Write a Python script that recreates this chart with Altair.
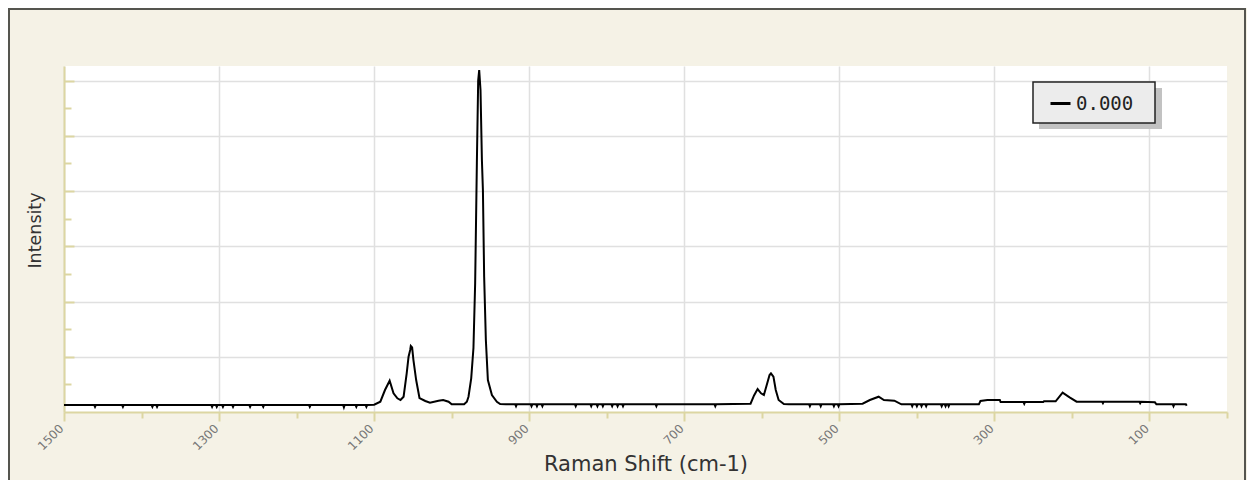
import altair as alt
import pandas as pd

# ---- data (Raman shift in cm-1, intensity in arbitrary units) ----
shift = [
    1500, 1461, 1460, 1459, 1425, 1424, 1423, 1387, 1386, 1385, 1381, 1380, 1379,
    1310, 1309, 1308, 1304, 1303, 1302, 1296, 1295, 1294, 1283, 1282, 1281,
    1261, 1260, 1259, 1244, 1243, 1242, 1184, 1183, 1182, 1140, 1139, 1138,
    1124, 1123, 1122, 1111, 1110, 1109,
    1100, 1092, 1086, 1080, 1075, 1070, 1066, 1062, 1058, 1055.6, 1053.5, 1052.7,
    1051, 1049.3, 1045.8, 1041.5, 1034, 1028, 1017, 1011, 1004, 1000, 984, 980.4,
    978.3, 974.8, 971.9, 969.7, 967.5, 965.8, 964.5, 962.8, 961.0, 959.7, 958.1,
    955.9, 953.3, 948.1, 941.7, 937.4, 930,
    918, 917, 916, 898, 897, 896, 891, 890, 889, 884, 883, 882,
    841, 840, 839, 821, 820, 819, 813, 812, 811, 806, 805, 804,
    794, 793, 792, 787, 786, 785, 780, 779, 778, 737, 736, 735, 661, 660, 659,
    614.5, 610, 605.4, 601, 597.3, 593, 590, 588.2, 585, 582, 578.3, 571.5, 565,
    539, 538, 537, 525, 524, 523, 508, 507, 506, 502, 501, 500,
    470, 460.6, 449.3, 442.5, 429, 420,
    407, 406, 405, 401, 400, 399, 395, 394, 393, 389, 388, 387,
    369, 368, 367, 364, 363, 362, 360, 359, 358,
    320, 318, 309, 293, 292, 262.5, 261.5, 260.5, 237, 236, 221,
    212, 203, 194, 161, 160, 159, 113, 112, 111, 93, 91, 70, 69, 68, 53, 52,
]
intensity = [
    127, 127, 95, 127, 127, 95, 127, 127, 95, 127, 127, 95, 127,
    127, 95, 127, 127, 95, 127, 127, 95, 127, 127, 95, 127,
    127, 95, 127, 127, 95, 127, 127, 95, 127, 127, 85, 127,
    127, 95, 127, 127, 95, 127,
    132, 186, 398, 566, 338, 248, 217, 277, 700, 1001, 1122, 1195,
    1170, 941, 579, 253, 199, 168, 205, 217, 186, 139, 139, 186,
    277, 610, 1158, 2335, 4507, 6000, 6190, 5830, 4560, 4018, 2449,
    1303, 579, 308, 186, 145, 139,
    139, 105, 139, 139, 105, 139, 139, 105, 139, 139, 105, 139,
    139, 105, 139, 139, 105, 139, 139, 105, 139, 139, 105, 139,
    139, 105, 139, 139, 105, 139, 139, 105, 139, 139, 105, 139, 139, 105, 139,
    150, 300, 416, 338, 308, 519, 670, 700, 639, 398, 217, 145, 139,
    139, 105, 139, 139, 105, 139, 139, 105, 139, 139, 105, 139,
    150, 217, 277, 217, 205, 139,
    139, 105, 139, 139, 105, 139, 139, 105, 139, 139, 105, 139,
    139, 105, 139, 139, 105, 139, 139, 105, 139,
    139, 199, 217, 217, 181, 181, 150, 181, 181, 194, 194,
    350, 266, 187, 187, 160, 187, 187, 160, 187, 176, 139, 139, 105, 139, 139, 115,
]
series_name = "0.000"

x_major = [1500, 1300, 1100, 900, 700, 500, 300, 100]
x_minor = [1400, 1200, 1000, 800, 600, 400, 200, 0]
y_major = [1000, 2000, 3000, 4000, 5000, 6000]
y_minor = [500, 1500, 2500, 3500, 4500, 5500]
x_domain = [0, 1500]
y_domain = [0, 6263]

df = pd.DataFrame({"shift": shift, "intensity": intensity,
                   "series": [series_name] * len(shift)})

W, H = 1163, 346
AXIS_C = "#dcd6a2"
GRID_C = "#e0e0e0"

xscale = alt.Scale(domain=x_domain, reverse=True, nice=False, zero=False)
yscale = alt.Scale(domain=y_domain, nice=False, zero=False)

base = alt.Chart(df)
one = pd.DataFrame({"k": [0]})

# frame around the whole figure
frame = alt.Chart(one).mark_rect(
    fillOpacity=0, stroke="#55554f", strokeWidth=2
).encode(x=alt.value(-55), x2=alt.value(1181), y=alt.value(-57), y2=alt.value(440))

# legend drop shadow and legend box
shadow = alt.Chart(one).mark_rect(fill="#c2c2c2", strokeWidth=0).encode(
    x=alt.value(975), x2=alt.value(1098), y=alt.value(22), y2=alt.value(63))
legend_box = alt.Chart(one).mark_rect(
    fill="#ececec", stroke="#222222", strokeWidth=1.5
).encode(x=alt.value(969), x2=alt.value(1091), y=alt.value(16), y2=alt.value(57))

# minor x ticks + inward major y ticks
ticks1 = base.mark_line(opacity=0).encode(
    x=alt.X("shift:Q", scale=xscale, axis=alt.Axis(
        values=x_minor, orient="bottom", grid=False, domain=False, labels=False,
        title=None, tickSize=6, tickColor=AXIS_C, tickWidth=2)),
    y=alt.Y("intensity:Q", scale=yscale, axis=alt.Axis(
        values=y_major, orient="left", offset=-10, tickSize=10, tickColor=AXIS_C,
        tickWidth=2, domain=False, labels=False, grid=False, title=None)),
)

# inward minor y ticks
ticks2 = base.mark_line(opacity=0).encode(
    x=alt.X("shift:Q", scale=xscale, axis=None),
    y=alt.Y("intensity:Q", scale=yscale, axis=alt.Axis(
        values=y_minor, orient="left", offset=-7, tickSize=7, tickColor=AXIS_C,
        tickWidth=2, domain=False, labels=False, grid=False, title=None)),
)

line = base.mark_line(strokeWidth=2, interpolate="linear").encode(
    x=alt.X("shift:Q", scale=xscale, axis=alt.Axis(
        values=x_major, orient="bottom", grid=True, gridColor=GRID_C, gridWidth=1.5,
        tickSize=9, tickColor=AXIS_C, tickWidth=2, domainColor=AXIS_C, domainWidth=2,
        format="d", labelAngle=315, labelAlign="right", labelBaseline="middle",
        labelFont="DejaVu Sans", labelFontSize=12, labelColor="#777777",
        labelPadding=5, labelOffset=-3,
        title="Raman Shift (cm-1)", titleFont="DejaVu Sans", titleFontSize=21,
        titleFontWeight="normal", titleColor="#333333", titleY=41)),
    y=alt.Y("intensity:Q", scale=yscale, axis=alt.Axis(
        values=y_major, orient="left", grid=True, gridColor=GRID_C, gridWidth=1.5,
        ticks=False, labels=False, domainColor=AXIS_C, domainWidth=2,
        title="Intensity", titleFont="DejaVu Sans", titleFontSize=17.5,
        titleFontWeight="normal", titleColor="#333333", titleX=-20, titleY=164)),
    color=alt.Color("series:N", scale=alt.Scale(range=["#000000"]), legend=alt.Legend(
        orient="none", legendX=969, legendY=16, title=None, padding=10,
        symbolType="stroke", symbolStrokeWidth=3, symbolSize=400,
        symbolOffset=6, labelOffset=4,
        labelFont="DejaVu Sans Mono", labelFontSize=19, labelColor="#222222")),
    order=alt.Order("shift:Q"),
)

chart = alt.layer(shadow, legend_box, frame, ticks1, ticks2, line).resolve_axis(
    x="independent", y="independent"
).properties(
    width=W, height=H,
    autosize=alt.AutoSizeParams(type="none"),
    padding={"left": 56, "top": 58, "right": 20, "bottom": 68},
    background="#f5f2e6",
).configure_view(fill="white", strokeWidth=0)

chart.save("out.html", embed_options={"renderer": "svg", "actions": False})
